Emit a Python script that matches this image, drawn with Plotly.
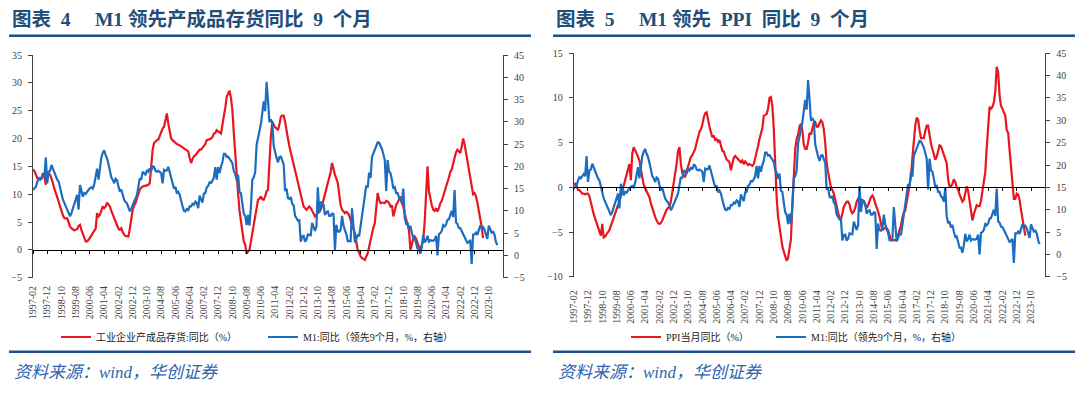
import plotly.graph_objects as go

# ---------------- data ----------------
N_CAT = 331
months = [f"{1997 + (1 + k) // 12:04d}-{(1 + k) % 12 + 1:02d}" for k in range(N_CAT)]

tick_labels = ["1997-02", "1997-12", "1998-10", "1999-08", "2000-06", "2001-04", "2002-02",
               "2002-12", "2003-10", "2004-08", "2005-06", "2006-04", "2007-02", "2007-12",
               "2008-10", "2009-08", "2010-06", "2011-04", "2012-02", "2012-12", "2013-10",
               "2014-08", "2015-06", "2016-04", "2017-02", "2017-12", "2018-10", "2019-08",
               "2020-06", "2021-04", "2022-02", "2022-12", "2023-10"]

# M1 YoY (%), shifted 9 months forward (first point plotted at 1997-02)
m1_lead9 = [
    14.7, 15.0, 15.4, 16.5, 17.3, 17.0, 17.5, 18.0,
    17.5, 22.0, 16.2, 18.8, 19.0, 20.3, 19.5, 18.5, 18.0, 17.0, 16.6, 15.1,
    14.0, 12.5, 11.8, 11.0, 10.5, 9.5, 8.8, 9.5, 10.5, 12.0, 12.8, 13.6,
    10.3, 15.8, 14.5, 13.2, 14.0, 13.8, 14.3, 14.8, 15.1, 15.3, 15.0, 16.0,
    18.0, 19.5, 17.0, 20.3, 22.0, 23.0, 23.6, 22.5, 21.8, 20.5, 18.8, 17.5,
    17.0, 16.2, 17.2, 16.9, 15.5, 14.3, 14.8, 13.6, 12.5, 12.0, 11.7, 10.8,
    9.9, 10.5, 11.4, 12.0, 12.8, 13.6, 15.5, 17.3, 17.0, 18.8, 18.5, 18.0,
    19.2, 18.8, 19.5, 19.0, 20.0, 19.9, 19.0, 18.8, 19.0, 18.8, 18.5, 16.2,
    19.2, 19.0, 19.1, 19.9, 18.5, 16.9, 16.2, 15.0, 15.4, 13.9, 14.3, 13.6,
    12.0, 11.0, 10.0, 9.9, 10.4, 10.2, 11.0, 11.0, 11.6, 11.4, 12.1, 11.8,
    10.6, 13.4, 12.6, 11.9, 13.9, 14.0, 15.3, 15.6, 16.4, 16.3, 16.8, 17.5,
    19.8, 17.0, 19.8, 18.5, 20.0, 20.9, 22.8, 22.8, 22.1, 22.2, 21.7, 21.0,
    20.7, 18.9, 18.3, 16.9, 18.1, 14.2, 14.0, 11.6, 9.4, 8.9, 6.8, 9.1,
    6.7, 10.9, 17.0, 17.5, 18.7, 24.8, 26.4, 27.7, 29.5, 32.0, 34.6, 32.4,
    39.0, 34.9, 29.9, 30.5, 29.9, 24.6, 22.9, 21.9, 20.9, 22.1, 22.2, 21.2,
    20.5, 14.5, 15.0, 12.9, 12.7, 13.1, 11.6, 11.2, 8.9, 8.4, 7.8, 7.9,
    3.1, 4.3, 4.4, 3.1, 3.5, 4.7, 4.6, 4.5, 7.3, 6.1, 5.5, 6.5,
    15.3, 9.5, 11.9, 11.9, 11.3, 9.1, 9.7, 9.9, 8.9, 8.9, 9.4, 9.3,
    1.2, 6.9, 5.4, 5.3, 5.7, 8.9, 6.7, 5.7, 4.8, 3.2, 3.2, 3.2,
    10.6, 5.6, 2.9, 3.7, 4.7, 4.3, 6.6, 9.3, 11.4, 14.0, 15.7, 15.2,
    18.6, 17.4, 22.1, 22.9, 23.7, 24.6, 25.4, 25.3, 24.7, 23.9, 22.7, 21.4,
    14.5, 21.4, 18.8, 18.5, 17.0, 15.0, 15.3, 14.0, 14.0, 13.0, 12.7, 11.8,
    15.0, 8.5, 7.1, 7.2, 6.0, 6.6, 5.1, 3.9, 4.0, 2.7, 1.5, 1.5,
    0.4, 2.0, 4.6, 2.9, 3.4, 4.4, 3.1, 3.4, 3.4, 3.3, 3.5, 4.4,
    0.0, 4.8, 5.0, 5.5, 6.8, 6.5, 6.9, 8.0, 8.1, 9.1, 10.0, 8.6,
    14.7, 7.4, 7.1, 6.2, 6.1, 5.5, 4.9, 4.2, 3.7, 2.8, 3.0, 3.5,
    -1.9, 4.7, 4.7, 5.1, 4.6, 5.8, 6.7, 6.1, 6.4, 5.8, 4.6, 3.7,
    6.7, 5.8, 5.1, 5.3, 4.7, 3.1, 2.3,
]

# industrial finished-goods inventory YoY (%), 1997-02 onwards
inventory_yoy = [
    14.4, 14.2, 13.5, 12.9, 12.7, 12.9, 12.8, 13.8, 13.3, 11.7, 13.5,
    13.7, 13.5, 12.8, 12.0, 11.0, 10.3, 9.6, 8.7, 7.8, 6.8, 6.2, 5.7,
    5.6, 5.7, 4.8, 4.2, 3.9, 3.6, 3.5, 3.6, 3.7, 4.3, 4.5, 3.6,
    2.7, 2.2, 1.5, 1.5, 1.8, 2.2, 2.7, 3.2, 3.6, 3.8, 6.6, 6.0,
    6.3, 7.0, 7.8, 7.5, 7.8, 8.5, 8.2, 7.8, 7.0, 6.3, 5.7, 5.0,
    4.2, 3.8, 3.6, 3.9, 3.2, 2.7, 2.5, 2.4, 2.4, 3.8, 6.0, 7.2,
    8.0, 8.4, 9.3, 10.2, 10.8, 11.2, 11.4, 11.5, 11.5, 11.6, 11.7, 12.0,
    15.0, 18.0, 19.2, 19.5, 19.7, 19.8, 20.6, 21.0, 21.8, 22.1, 23.2, 24.5,
    22.7, 21.0, 20.0, 19.7, 19.4, 19.2, 19.0, 18.9, 18.8, 18.6, 18.4, 18.2,
    18.0, 17.9, 17.7, 16.5, 15.6, 16.3, 16.8, 17.0, 17.4, 17.6, 18.0, 18.0,
    18.4, 18.6, 19.0, 19.7, 19.8, 19.9, 20.0, 20.3, 20.9, 21.0, 21.5, 21.3,
    21.0, 20.9, 22.5, 23.9, 25.5, 27.5, 28.0, 28.6, 27.2, 25.1, 21.0, 16.8,
    13.5, 10.2, 7.0, 5.2, 4.2, 1.5, 0.9, -0.7, -0.3, 0.0, 1.5, 3.0,
    4.5, 6.6, 7.8, 9.0, 9.2, 9.6, 9.1, 9.0, 9.6, 10.5, 10.8, 16.2,
    20.3, 23.0, 22.5, 22.0, 21.8, 21.5, 22.5, 23.9, 24.1, 24.1, 23.0, 21.8,
    20.0, 18.6, 17.5, 16.2, 15.0, 14.0, 13.2, 12.0, 10.8, 9.5, 8.5, 7.8,
    7.5, 7.2, 7.5, 7.8, 7.5, 6.9, 6.6, 6.0, 6.3, 6.6, 6.9, 7.2,
    8.0, 9.2, 10.0, 11.0, 12.0, 13.0, 14.0, 15.6, 14.4, 13.5, 12.8, 12.0,
    10.0, 8.0, 7.2, 6.8, 6.6, 6.8, 6.6, 6.2, 5.4, 4.8, 4.0, 3.0,
    1.5, 0.0, -0.5, -1.2, -1.5, -1.6, -1.8, -1.2, -0.6, 0.5, 1.8, 3.0,
    4.0, 4.8, 7.0, 10.2, 9.0, 8.4, 8.5, 8.4, 8.4, 8.8, 8.7, 8.4,
    7.8, 8.0, 6.0, 7.0, 8.1, 8.5, 9.0, 9.6, 8.4, 7.8, 6.5, 5.5,
    4.8, 3.5, 0.0, 1.2, 2.0, 2.4, 2.0, 1.2, 0.6, 0.0, 0.8, 1.8,
    5.0, 9.0, 15.0, 10.5, 9.0, 8.0, 7.2, 7.0, 7.5, 6.9, 7.5, 8.4,
    8.8, 9.6, 10.5, 11.0, 12.0, 13.0, 14.0, 14.4, 15.5, 16.8, 17.5, 18.0,
    17.6, 17.4, 18.5, 20.0, 19.0, 17.4, 16.0, 14.4, 12.5, 10.8, 10.0, 10.2,
    9.6, 8.5, 7.2, 5.5, 4.2, 2.1,
]

# PPI YoY (%), 1997-02 onwards
ppi_yoy = [
    0.3, 0.4, 0.2, -0.3, -0.3, -0.5, -0.7, -0.7, -0.8, -0.7, -0.7,
    -1.0, -1.8, -2.4, -3.0, -3.5, -4.0, -4.4, -5.0, -5.4, -4.1, -5.6, -5.5,
    -5.2, -5.0, -4.8, -4.3, -3.9, -3.4, -2.9, -2.5, -2.0, -1.6, -1.0, -0.5,
    0.2, 0.9, 1.5, 2.2, 2.6, 0.8, 3.8, 4.5, 4.2, 3.8, 3.4, 3.0,
    2.0, 1.0, 0.3, -0.1, -0.4, -0.8, -1.1, -1.8, -2.4, -2.9, -3.3, -3.7,
    -4.0, -4.1, -4.0, -3.7, -3.3, -2.8, -2.5, -2.3, -2.2, -1.6, -0.6, 0.3,
    1.6, 2.6, 4.0, 4.5, 2.6, 1.6, 1.3, 1.2, 1.8, 2.3, 2.7, 3.4,
    3.6, 4.0, 4.3, 5.0, 5.7, 6.2, 6.5, 7.0, 7.8, 8.3, 8.4, 7.5,
    6.8, 6.2, 5.6, 5.8, 5.3, 5.4, 5.1, 5.3, 4.8, 4.1, 4.0, 3.4,
    3.1, 3.0, 2.8, 1.9, 2.5, 3.3, 3.5, 3.3, 3.2, 3.0, 2.8, 3.0,
    2.6, 2.9, 2.7, 2.5, 2.6, 2.5, 2.4, 2.6, 3.2, 4.0, 4.6, 5.4,
    6.1, 6.6, 8.0, 8.1, 8.2, 8.8, 10.0, 10.1, 9.1, 6.6, 2.0, -1.1,
    -3.3, -4.5, -6.0, -6.6, -7.2, -7.8, -8.2, -7.9, -7.0, -5.8, -2.1, 1.7,
    4.3, 5.4, 5.9, 6.8, 7.1, 6.4, 4.8, 4.3, 4.3, 5.0, 6.1, 5.9,
    6.6, 7.2, 7.3, 6.8, 6.8, 7.1, 7.5, 7.3, 6.5, 5.0, 2.7, 1.7,
    0.7, 0.0, -0.3, -0.7, -1.4, -2.1, -2.9, -3.5, -3.6, -2.8, -2.2, -1.9,
    -1.6, -1.6, -1.9, -2.6, -2.9, -2.7, -2.3, -1.6, -1.3, -1.5, -1.4, -1.4,
    -1.6, -2.0, -2.3, -2.0, -1.4, -1.1, -0.9, -1.2, -1.8, -2.2, -2.7, -3.3,
    -4.3, -4.8, -4.6, -4.6, -4.6, -4.8, -5.4, -5.9, -5.9, -5.9, -5.9, -5.9,
    -5.3, -4.9, -4.3, -3.4, -2.8, -2.6, -1.7, -0.8, 0.1, 1.2, 3.3, 5.5,
    6.9, 7.8, 7.6, 6.4, 5.5, 5.5, 5.5, 6.3, 6.9, 6.9, 5.8, 4.9,
    4.3, 3.7, 3.1, 3.4, 4.1, 4.7, 4.6, 4.1, 3.6, 3.3, 2.7, 0.9,
    0.1, 0.1, 0.4, 0.9, 0.6, 0.0, -0.3, -0.8, -1.2, -1.6, -1.4, -0.5,
    0.1, -0.4, -1.5, -3.1, -3.7, -3.0, -2.4, -2.0, -2.1, -2.1, -1.5, -0.4,
    0.3, 1.7, 4.4, 6.8, 9.0, 8.8, 9.0, 9.5, 10.7, 13.5, 12.9, 10.3,
    9.1, 8.8, 8.3, 8.0, 6.4, 6.1, 4.2, 2.3, 0.9, -1.3, -1.3, -0.7,
    -0.8, -1.4, -2.5, -3.6, -4.6, -5.4,
]

# ---------------- styling ----------------
W, H = 1080, 393
RED = "#E8161F"
BLUE = "#1C6CC0"
NAVY = "#1F4E8C"
TITLE_C = "#1F4E79"
SRC_C = "#2F62AE"
AX_C = "#404040"
SERIF = "Liberation Serif, Noto Sans CJK SC"
CJK = "Liberation Serif, Noto Sans CJK SC"


def px_x(p):
    return p / W


def px_y(p):
    return 1 - p / H


L_X = [px_x(33.0), px_x(503.0)]
L_Y = [px_y(277.7), px_y(55.0)]
R_X = [px_x(573.7), px_x(1045.3)]
R_Y = [px_y(276.7), px_y(53.3)]

L_RANGE, L2_RANGE = [-5, 35], [-5, 45]
R_RANGE, R2_RANGE = [-10, 15], [-5, 45]
X_RANGE = [0, 330]


def zero_pos(dom, rng):
    return dom[0] + (0 - rng[0]) / (rng[1] - rng[0]) * (dom[1] - dom[0])


fig = go.Figure()
fig.add_trace(go.Scatter(x=months[:len(inventory_yoy)], y=inventory_yoy, xaxis="x", yaxis="y",
                         mode="lines", line=dict(color=RED, width=2.2),
                         name="工业企业产成品存货:同比（%）", legend="legend"))
fig.add_trace(go.Scatter(x=months[:len(m1_lead9)], y=m1_lead9, xaxis="x", yaxis="y2",
                         mode="lines", line=dict(color=BLUE, width=2.2),
                         name="M1:同比（领先9个月，%，右轴）", legend="legend2"))
fig.add_trace(go.Scatter(x=months[:len(ppi_yoy)], y=ppi_yoy, xaxis="x2", yaxis="y3",
                         mode="lines", line=dict(color=RED, width=2.2),
                         name="PPI当月同比（%）", legend="legend3"))
fig.add_trace(go.Scatter(x=months[:len(m1_lead9)], y=m1_lead9, xaxis="x2", yaxis="y4",
                         mode="lines", line=dict(color=BLUE, width=2.2),
                         name="M1:同比（领先9个月，%，右轴）", legend="legend4"))

tickfont = dict(family=SERIF, size=10, color=AX_C)


def xaxis_cfg(dom, pos, standoff):
    return dict(type="category", categoryorder="array", categoryarray=months,
                range=X_RANGE, domain=dom, anchor="free", position=pos,
                showline=True, linecolor="#000000", linewidth=1,
                ticks="outside", ticklen=3, tickcolor="#000000",
                tickmode="array", tickvals=tick_labels, ticktext=tick_labels,
                tickangle=-90, ticklabelstandoff=standoff, tickfont=tickfont,
                showgrid=False, zeroline=False, automargin=False)


def yaxis_cfg(dom, rng, anchor, side="left", overlay=None):
    d = dict(range=rng, dtick=5, tick0=0, anchor=anchor, side=side,
             showline=True, linecolor=AX_C, linewidth=1, ticks="outside",
             ticklen=4, tickcolor=AX_C, tickfont=tickfont, showgrid=False,
             zeroline=False, ticklabelstandoff=4, automargin=False)
    if overlay:
        d["overlaying"] = overlay
    else:
        d["domain"] = dom
    return d


legend_common = dict(orientation="h", xanchor="left", yanchor="middle",
                     bgcolor="rgba(0,0,0,0)", borderwidth=0,
                     font=dict(family=CJK, size=10, color="#222222"),
                     itemwidth=30, tracegroupgap=0)
LEG_Y = px_y(337)

fig.update_layout(
    width=W, height=H,
    margin=dict(l=0, r=0, t=0, b=0, pad=0, autoexpand=False),
    paper_bgcolor="white", plot_bgcolor="rgba(0,0,0,0)",
    xaxis=xaxis_cfg(L_X, zero_pos(L_Y, L_RANGE), 28),
    yaxis=yaxis_cfg(L_Y, L_RANGE, "x"),
    yaxis2=yaxis_cfg(L_Y, L2_RANGE, "x", side="right", overlay="y"),
    xaxis2=xaxis_cfg(R_X, zero_pos(R_Y, R_RANGE), 95),
    yaxis3=yaxis_cfg(R_Y, R_RANGE, "x2"),
    yaxis4=yaxis_cfg(R_Y, R2_RANGE, "x2", side="right", overlay="y3"),
    showlegend=True,
    legend=dict(x=px_x(56), y=LEG_Y, **legend_common),
    legend2=dict(x=px_x(263), y=LEG_Y, **legend_common),
    legend3=dict(x=px_x(626), y=LEG_Y, **legend_common),
    legend4=dict(x=px_x(771), y=LEG_Y, **legend_common),
)

NB = "\u00a0"
titles = [
    (9, 531, f"图表{NB * 2}4{NB * 5}M1{NB}领先产成品存货同比{NB * 2}9{NB * 2}个月"),
    (553, 1075, f"图表{NB * 2}5{NB * 5}M1{NB}领先{NB * 2}PPI{NB * 2}同比{NB * 2}9{NB * 2}个月"),
]
for x0, x1, title in titles:
    fig.add_annotation(x=px_x(x0 + 1), y=px_y(19), xref="paper", yref="paper",
                       xanchor="left", yanchor="middle", showarrow=False,
                       text=f"<b>{title}</b>",
                       font=dict(family=CJK, size=19.5, color=TITLE_C))
    fig.add_shape(type="line", xref="paper", yref="paper",
                  x0=px_x(x0), x1=px_x(x1), y0=px_y(35.8), y1=px_y(35.8),
                  line=dict(color=NAVY, width=2.5))
    fig.add_shape(type="line", xref="paper", yref="paper",
                  x0=px_x(x0), x1=px_x(x1), y0=px_y(351.7), y1=px_y(351.7),
                  line=dict(color=NAVY, width=2.5))
    fig.add_annotation(x=px_x(x0 + 3), y=px_y(372), xref="paper", yref="paper",
                       xanchor="left", yanchor="middle", showarrow=False,
                       text="<i>资料来源：wind，华创证券</i>",
                       font=dict(family=CJK, size=17, color=SRC_C))

PIN = ("document.documentElement.style.margin='0';"
       "document.documentElement.style.padding='0';"
       "document.body.style.margin='0';document.body.style.padding='0';"
       "document.body.style.overflow='hidden';"
       "var gd=document.getElementById('{plot_id}');"
       "gd.style.position='fixed';gd.style.left='0px';gd.style.top='0px';"
       "gd.style.margin='0';")
fig.write_html("out.html", config={"displayModeBar": False}, post_script=PIN)
